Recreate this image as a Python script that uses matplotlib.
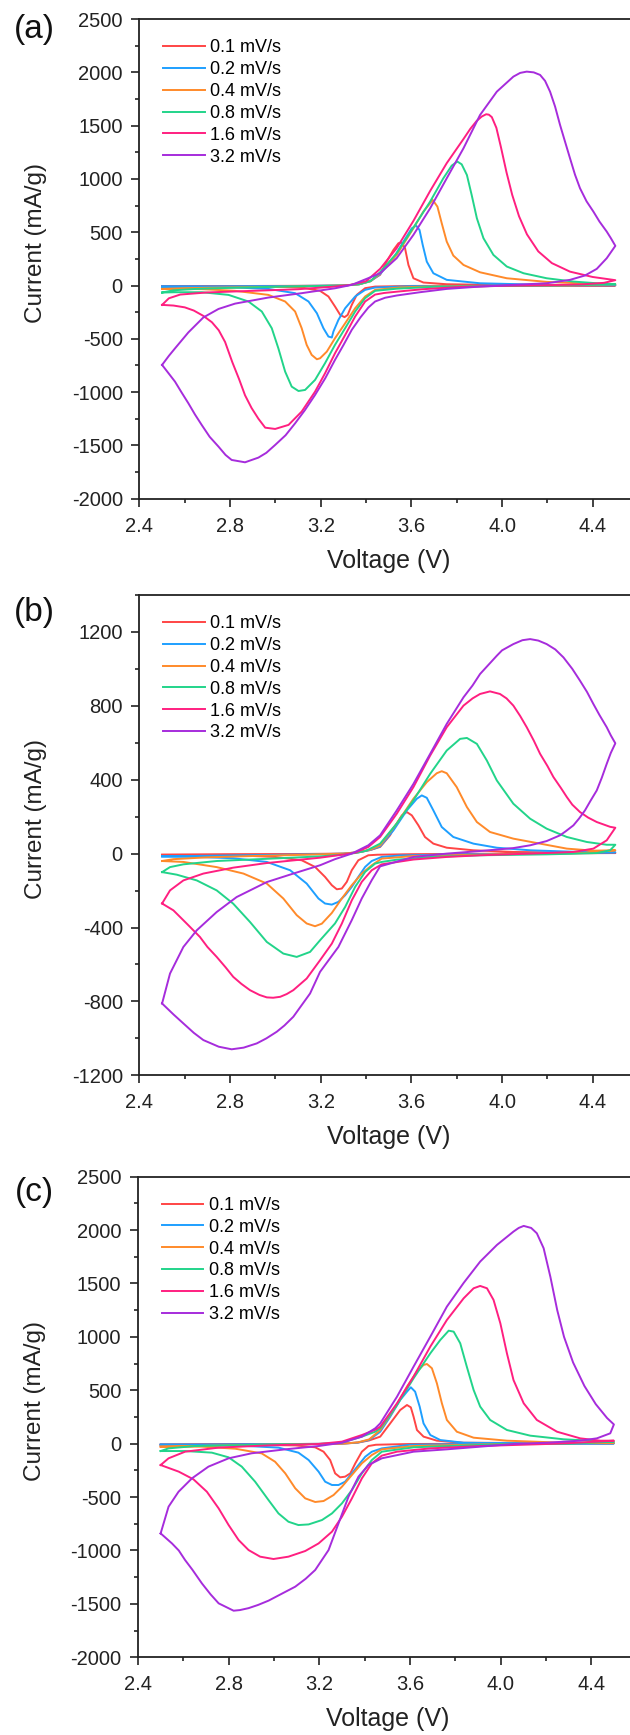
import matplotlib
matplotlib.use('Agg')
import matplotlib.pyplot as plt
from matplotlib.ticker import MultipleLocator, FormatStrFormatter

plt.rcParams['font.family'] = ['Liberation Sans', 'DejaVu Sans']
plt.rcParams['axes.unicode_minus'] = False

rates = ['0.1 mV/s', '0.2 mV/s', '0.4 mV/s', '0.8 mV/s', '1.6 mV/s', '3.2 mV/s']
colors = ['#FF4545', '#1E9FFF', '#FF8A2A', '#22D48A', '#FF1F80', '#A62CDC']

# ---------- panel (a) : voltage (V), current (mA/g), anodic then cathodic ----------
a_v_01 = [2.5, 2.8, 3.1, 3.3, 3.37, 3.42, 3.462, 3.491, 3.521, 3.543, 3.558, 3.572, 3.587, 3.609, 3.653, 3.756, 4.05, 4.5,
          4.0, 3.6, 3.44, 3.396, 3.359, 3.337, 3.319, 3.305, 3.286, 3.263, 3.234, 3.197, 3.116, 2.969, 2.5]
a_i_01 = [-8, -5, -3, 0, 12, 45, 100, 225, 334, 397, 403, 350, 193, 68, 28, 12, 3, 0,
          -2, -4, -10, -25, -88, -182, -276, -297, -276, -197, -103, -50, -19, -10, -7]

a_v_02 = [2.5, 2.8, 3.1, 3.3, 3.37, 3.42, 3.462, 3.521, 3.565, 3.602, 3.621, 3.636, 3.65, 3.668, 3.697, 3.756, 3.903, 4.197, 4.5,
          4.0, 3.6, 3.44, 3.396, 3.352, 3.308, 3.278, 3.256, 3.249, 3.234, 3.212, 3.183, 3.146, 3.087, 2.969, 2.822, 2.675, 2.5]
a_i_02 = [-10, -7, -4, 0, 12, 40, 106, 256, 412, 537, 562, 521, 381, 224, 115, 53, 21, 6, 3,
          -2, -6, -19, -41, -103, -213, -323, -432, -488, -479, -401, -260, -150, -72, -32, -19, -13, -10]

a_v_04 = [2.5, 2.6, 2.8, 3.0, 3.2, 3.3, 3.37, 3.42, 3.462, 3.535, 3.609, 3.653, 3.683, 3.694, 3.715, 3.734, 3.756, 3.785,
          3.83, 3.903, 4.021, 4.197, 4.374, 4.5,
          4.3, 4.0, 3.7, 3.55, 3.44, 3.396, 3.352, 3.308, 3.263, 3.227, 3.197, 3.183, 3.16, 3.138, 3.116, 3.087, 3.043,
          2.969, 2.822, 2.675, 2.5]
a_i_04 = [-32, -25, -18, -12, -5, 0, 12, 40, 115, 287, 537, 694, 772, 803, 740, 584, 412, 281,
          193, 124, 68, 34, 18, 12,
          2, -3, -8, -18, -41, -103, -213, -354, -495, -620, -683, -692, -651, -557, -401, -244, -150,
          -88, -50, -34, -32]

a_v_08 = [2.5, 2.55, 2.65, 2.8, 3.0, 3.2, 3.3, 3.37, 3.42, 3.462, 3.535, 3.609, 3.683, 3.741, 3.778, 3.803, 3.822, 3.845,
          3.866, 3.889, 3.918, 3.962, 4.021, 4.095, 4.197, 4.315, 4.418, 4.5,
          4.3, 4.0, 3.7, 3.535, 3.44, 3.396, 3.352, 3.308, 3.263, 3.219, 3.175, 3.131, 3.102, 3.072, 3.043, 3.013,
          2.984, 2.94, 2.881, 2.793, 2.675, 2.557, 2.5]
a_i_08 = [-66, -45, -32, -22, -12, -4, 0, 12, 42, 125, 303, 544, 788, 1006, 1125, 1163, 1137, 1037,
          850, 631, 444, 287, 178, 115, 68, 37, 21, 12,
          3, -4, -12, -30, -50, -119, -244, -400, -557, -729, -886, -980, -990, -949, -808, -589,
          -401, -244, -150, -88, -63, -63, -66]

a_v_16 = [2.5, 2.53, 2.58, 2.7, 2.9, 3.1, 3.25, 3.33, 3.4, 3.462, 3.535, 3.609, 3.683, 3.756, 3.83, 3.86, 3.888, 3.91,
          3.93, 3.942, 3.955, 3.975, 3.995, 4.02, 4.045, 4.075, 4.11, 4.16, 4.22, 4.3, 4.4, 4.5,
          4.45, 4.35, 4.2, 4.0, 3.8, 3.65, 3.55, 3.48, 3.44, 3.396, 3.352, 3.308, 3.263, 3.219, 3.175, 3.116, 3.058,
          2.999, 2.955, 2.925, 2.895, 2.866, 2.84, 2.81, 2.778, 2.75, 2.72, 2.682, 2.64, 2.6, 2.55, 2.5]
a_i_16 = [-182, -120, -85, -65, -50, -35, -12, 5, 40, 156, 350, 606, 888, 1148, 1375, 1470, 1544, 1585,
          1607, 1603, 1580, 1480, 1300, 1060, 850, 650, 480, 320, 210, 130, 80, 50,
          25, 10, 3, -3, -15, -35, -55, -70, -85, -150, -291, -464, -636, -824, -996, -1183, -1308,
          -1346, -1334, -1250, -1150, -1030, -880, -720, -530, -420, -345, -285, -235, -205, -188, -182]

a_v_32 = [2.5, 2.53, 2.557, 2.616, 2.682, 2.749, 2.822, 2.969, 3.116, 3.263, 3.337, 3.41, 3.462, 3.535, 3.609, 3.683,
          3.756, 3.83, 3.903, 3.977, 4.05, 4.08, 4.109, 4.14, 4.168, 4.19, 4.212, 4.234, 4.256, 4.278, 4.3, 4.322,
          4.344, 4.373, 4.403, 4.43, 4.462, 4.48, 4.5,
          4.462, 4.418, 4.366, 4.3, 4.197, 4.05, 3.903, 3.756, 3.638, 3.535, 3.484, 3.44, 3.41, 3.375, 3.337, 3.3,
          3.263, 3.22, 3.175, 3.13, 3.087, 3.045, 2.999, 2.96, 2.925, 2.866, 2.807, 2.78, 2.749, 2.71, 2.675, 2.645,
          2.616, 2.585, 2.557, 2.5]
a_i_32 = [-745, -660, -590, -440, -300, -220, -170, -113, -72, -26, 6, 69, 115, 256, 475, 725,
          1006, 1288, 1600, 1819, 1960, 1995, 2007, 2000, 1976, 1920, 1819, 1680, 1507, 1350, 1194, 1040,
          913, 790, 694, 600, 506, 445, 372,
          256, 156, 94, 53, 21, 6, -10, -32, -63, -94, -115, -150, -207, -300, -416, -560,
          -698, -870, -1027, -1170, -1293, -1405, -1496, -1570, -1615, -1659, -1637, -1590, -1512, -1420, -1309, -1210,
          -1105, -1000, -902, -745]

# ---------- panel (b) ----------
b_v_01 = [2.5, 2.8, 3.1, 3.3, 3.37, 3.42, 3.462, 3.506, 3.521, 3.558, 3.58, 3.602, 3.631, 3.66, 3.697, 3.756, 3.874, 4.05, 4.5,
          4.0, 3.6, 3.45, 3.41, 3.366, 3.337, 3.315, 3.293, 3.271, 3.249, 3.219, 3.175, 3.116, 2.999, 2.822, 2.5]
b_i_01 = [-5, -3, -2, 0, 8, 20, 36, 99, 135, 207, 225, 207, 153, 90, 54, 32, 18, 9, 3,
          0, -3, -6, -9, -36, -90, -153, -189, -193, -171, -126, -72, -36, -18, -9, -9]

b_v_02 = [2.5, 2.8, 3.1, 3.3, 3.37, 3.42, 3.462, 3.521, 3.58, 3.624, 3.646, 3.668, 3.697, 3.734, 3.785, 3.874, 3.977,
          4.124, 4.344, 4.5,
          4.2, 3.8, 3.55, 3.469, 3.425, 3.396, 3.366, 3.337, 3.308, 3.278, 3.249, 3.219, 3.19, 3.138, 3.065, 2.962,
          2.814, 2.65, 2.5]
b_i_02 = [-15, -10, -5, 0, 8, 20, 39, 126, 234, 297, 315, 302, 234, 144, 90, 54, 32,
          18, 9, 7,
          0, -4, -10, -18, -40, -72, -126, -180, -225, -261, -276, -270, -243, -162, -90, -45,
          -25, -18, -15]

b_v_04 = [2.5, 2.55, 2.7, 2.9, 3.1, 3.3, 3.37, 3.42, 3.462, 3.535, 3.609, 3.668, 3.712, 3.734, 3.756, 3.8, 3.845,
          3.889, 3.947, 4.05, 4.168, 4.286, 4.403, 4.5,
          4.35, 4.0, 3.609, 3.469, 3.425, 3.381, 3.337, 3.293, 3.249, 3.205, 3.175, 3.138, 3.094, 3.035, 2.962,
          2.859, 2.741, 2.594, 2.5]
b_i_04 = [-40, -30, -20, -13, -7, 0, 8, 22, 45, 162, 297, 387, 435, 446, 435, 360, 252,
          171, 117, 81, 54, 27, 16, 18,
          3, -3, -13, -27, -63, -108, -171, -243, -321, -379, -393, -378, -333, -243, -162,
          -108, -73, -45, -40]

b_v_08 = [2.5, 2.535, 2.594, 2.741, 2.962, 3.197, 3.3, 3.35, 3.4, 3.462, 3.535, 3.609, 3.683, 3.756, 3.815, 3.845,
          3.889, 3.933, 3.977, 4.05, 4.124, 4.197, 4.286, 4.374, 4.462, 4.5,
          4.477, 4.418, 4.197, 3.903, 3.683, 3.535, 3.469, 3.44, 3.396, 3.352, 3.308, 3.263, 3.197, 3.153, 3.094,
          3.035, 2.962, 2.888, 2.814, 2.741, 2.653, 2.565, 2.5]
b_i_08 = [-100, -73, -58, -40, -28, -15, -5, 3, 15, 54, 162, 288, 432, 558, 621, 626,
          594, 504, 396, 270, 189, 135, 90, 63, 48, 48,
          18, 3, -4, -9, -18, -33, -45, -54, -99, -180, -288, -378, -469, -532, -559,
          -541, -478, -370, -271, -199, -145, -114, -100]

b_v_16 = [2.5, 2.535, 2.594, 2.682, 2.814, 2.962, 3.109, 3.197, 3.3, 3.352, 3.41, 3.462, 3.535, 3.609, 3.683, 3.756,
          3.83, 3.87, 3.903, 3.947, 3.991, 4.02, 4.05, 4.08, 4.109, 4.14, 4.168, 4.2, 4.227, 4.26, 4.286, 4.31, 4.344,
          4.38, 4.418, 4.477, 4.5,
          4.462, 4.403, 4.315, 4.124, 3.903, 3.756, 3.609, 3.469, 3.425, 3.381, 3.337, 3.293, 3.249, 3.197, 3.138,
          3.079, 3.05, 3.021, 2.99, 2.962, 2.93, 2.888, 2.85, 2.814, 2.78, 2.741, 2.7, 2.667, 2.609, 2.55, 2.5]
b_i_16 = [-270, -199, -145, -108, -76, -51, -33, -22, -5, 5, 36, 90, 215, 360, 531, 684,
          801, 840, 864, 878, 864, 840, 801, 745, 684, 612, 540, 475, 414, 355, 306, 265, 225,
          195, 171, 145, 140,
          72, 27, 9, 0, -9, -18, -32, -58, -90, -153, -253, -379, -487, -577, -676,
          -739, -760, -775, -780, -778, -765, -739, -705, -667, -615, -559, -505, -451, -379, -307, -270]

b_v_32 = [2.5, 2.535, 2.594, 2.653, 2.741, 2.829, 2.962, 3.079, 3.197, 3.263, 3.337, 3.41, 3.462, 3.535, 3.609, 3.683,
          3.756, 3.83, 3.87, 3.903, 3.977, 4.0, 4.05, 4.09, 4.124, 4.16, 4.197, 4.235, 4.271, 4.31, 4.344, 4.375,
          4.403, 4.43, 4.462, 4.48, 4.5,
          4.48, 4.462, 4.44, 4.418, 4.39, 4.366, 4.34, 4.315, 4.28, 4.256, 4.197, 4.124, 4.05, 3.903, 3.756, 3.609,
          3.462, 3.425, 3.381, 3.337, 3.278, 3.197, 3.153, 3.079, 3.04, 3.006, 2.96, 2.918, 2.86, 2.807, 2.75, 2.682,
          2.64, 2.594, 2.55, 2.5]
b_i_32 = [-811, -649, -505, -415, -316, -235, -154, -108, -63, -30, 0, 45, 99, 233, 377, 540,
          702, 846, 910, 972, 1071, 1100, 1134, 1155, 1161, 1153, 1134, 1105, 1062, 1000, 936, 875,
          810, 750, 684, 640, 597,
          545, 486, 410, 342, 285, 234, 190, 153, 120, 99, 68, 45, 30, 14, 0, -18,
          -69, -144, -243, -360, -505, -640, -757, -883, -930, -964, -1000, -1027, -1050, -1059, -1045, -1009,
          -970, -919, -870, -811]

# ---------- panel (c) ----------
c_v_01 = [2.5, 2.8, 3.1, 3.3, 3.37, 3.42, 3.469, 3.513, 3.557, 3.587, 3.604, 3.616, 3.631, 3.66, 3.719, 3.837, 4.5,
          4.0, 3.6, 3.45, 3.417, 3.388, 3.359, 3.337, 3.314, 3.292, 3.27, 3.248, 3.219, 3.182, 3.094, 2.829, 2.5]
c_i_01 = [-9, -6, -3, 0, 10, 30, 66, 190, 315, 362, 340, 253, 128, 66, 28, 9, 3,
          0, -3, -10, -22, -75, -184, -278, -309, -315, -278, -153, -75, -34, -16, -9, -9]

c_v_02 = [2.5, 2.8, 3.1, 3.3, 3.37, 3.42, 3.469, 3.513, 3.557, 3.587, 3.604, 3.623, 3.643, 3.66, 3.69, 3.734, 3.837,
          4.057, 4.5,
          4.0, 3.6, 3.476, 3.432, 3.403, 3.373, 3.344, 3.314, 3.285, 3.256, 3.226, 3.197, 3.153, 3.108, 3.02, 2.829, 2.5]
c_i_02 = [-9, -6, -3, 0, 10, 35, 112, 253, 409, 487, 528, 487, 347, 190, 81, 34, 9,
          3, 3,
          0, -10, -44, -75, -122, -200, -278, -356, -387, -387, -356, -262, -153, -84, -37, -16, -9]

c_v_04 = [2.5, 2.7, 2.9, 3.1, 3.3, 3.37, 3.42, 3.469, 3.528, 3.587, 3.631, 3.66, 3.675, 3.697, 3.719, 3.741, 3.763,
          3.807, 3.881, 4.028, 4.278, 4.5,
          4.0, 3.616, 3.476, 3.432, 3.388, 3.344, 3.3, 3.263, 3.219, 3.182, 3.138, 3.094, 3.05, 3.005, 2.946, 2.829,
          2.682, 2.5]
c_i_04 = [-28, -20, -12, -5, 0, 12, 40, 128, 315, 534, 675, 737, 746, 706, 565, 378, 222,
          112, 56, 28, 9, 9,
          -3, -22, -53, -106, -184, -293, -403, -481, -537, -546, -512, -418, -278, -169, -91, -47,
          -28, -28]

c_v_08 = [2.5, 2.535, 2.65, 2.95, 3.2, 3.3, 3.388, 3.447, 3.469, 3.543, 3.616, 3.69, 3.734, 3.771, 3.793, 3.822,
          3.851, 3.881, 3.91, 3.954, 4.028, 4.131, 4.278, 4.425, 4.5,
          4.3, 4.0, 3.616, 3.476, 3.432, 3.388, 3.344, 3.3, 3.256, 3.212, 3.153, 3.108, 3.064, 3.02, 2.976, 2.917,
          2.858, 2.8, 2.726, 2.608, 2.5]
c_i_08 = [-69, -44, -22, -9, -3, 10, 66, 112, 144, 362, 612, 846, 971, 1058, 1049, 940,
          721, 503, 347, 222, 128, 75, 41, 25, 19,
          0, -5, -34, -75, -153, -278, -434, -559, -653, -715, -756, -762, -731, -653, -528, -356,
          -215, -128, -84, -69, -69]

c_v_16 = [2.5, 2.535, 2.608, 2.756, 2.976, 3.197, 3.3, 3.388, 3.447, 3.469, 3.543, 3.616, 3.69, 3.763, 3.837, 3.881,
          3.91, 3.94, 3.969, 3.999, 4.028, 4.057, 4.102, 4.16, 4.249, 4.351, 4.44, 4.5,
          4.3, 4.204, 3.91, 3.69, 3.543, 3.476, 3.432, 3.388, 3.344, 3.3, 3.256, 3.197, 3.138, 3.064, 2.998, 2.939,
          2.888, 2.844, 2.8, 2.756, 2.704, 2.645, 2.58, 2.5]
c_i_16 = [-200, -137, -75, -37, -16, -3, 19, 81, 130, 159, 378, 628, 909, 1158, 1361, 1455,
          1477, 1455, 1346, 1127, 846, 596, 378, 222, 112, 50, 28, 28,
          5, -3, -22, -44, -75, -112, -184, -325, -512, -684, -824, -934, -1005, -1058, -1080, -1058,
          -996, -902, -762, -606, -450, -334, -262, -200]

c_v_32 = [2.5, 2.535, 2.579, 2.638, 2.711, 2.8, 2.902, 3.05, 3.197, 3.3, 3.388, 3.447, 3.469, 3.543, 3.616, 3.69,
          3.763, 3.837, 3.91, 3.984, 4.057, 4.08, 4.102, 4.135, 4.16, 4.19, 4.22, 4.25, 4.28, 4.32, 4.37, 4.42, 4.47, 4.5,
          4.484, 4.425, 4.351, 4.204, 4.057, 3.91, 3.763, 3.616, 3.476, 3.417, 3.373, 3.329, 3.285, 3.241, 3.182,
          3.14, 3.094, 3.03, 2.976, 2.93, 2.888, 2.85, 2.822, 2.756, 2.72, 2.682, 2.64, 2.608, 2.58, 2.55, 2.5]
c_i_32 = [-840, -590, -450, -325, -215, -137, -90, -53, -22, 9, 66, 144, 190, 440, 721, 1002,
          1283, 1505, 1705, 1861, 1986, 2020, 2039, 2020, 1970, 1830, 1560, 1250, 1000, 760, 540, 370, 240, 180,
          97, 50, 28, 9, -3, -28, -53, -75, -137, -200, -309, -496, -746, -996, -1183,
          -1265, -1339, -1410, -1470, -1510, -1540, -1558, -1564, -1495, -1410, -1308, -1180, -1090, -1000, -934, -840]

panels = [
    ('(a)', [(a_v_01, a_i_01), (a_v_02, a_i_02), (a_v_04, a_i_04), (a_v_08, a_i_08), (a_v_16, a_i_16), (a_v_32, a_i_32)],
     (-2000, 2500), 500, 250),
    ('(b)', [(b_v_01, b_i_01), (b_v_02, b_i_02), (b_v_04, b_i_04), (b_v_08, b_i_08), (b_v_16, b_i_16), (b_v_32, b_i_32)],
     (-1200, 1400), 400, 200),
    ('(c)', [(c_v_01, c_i_01), (c_v_02, c_i_02), (c_v_04, c_i_04), (c_v_08, c_i_08), (c_v_16, c_i_16), (c_v_32, c_i_32)],
     (-2000, 2500), 500, 250),
]

# axes boxes in figure fractions (the right spine falls just outside the picture)
boxes = [(0.2213, 0.7126, 0.7914, 0.2764),
         (0.2213, 0.3802, 0.7914, 0.2769),
         (0.2190, 0.0448, 0.7914, 0.2770)]
tag_y = [1 - 29.6 / 1735, 1 - 613 / 1735, 1 - 1192 / 1735]

fig = plt.figure(figsize=(6.3, 17.35), dpi=100)

for (tag, curves, ylim, major, minor), box, ty in zip(panels, boxes, tag_y):
    ax = fig.add_axes(box)
    for (v, i), c, lab in zip(curves, colors, rates):
        ax.plot(v, i, color=c, lw=1.4, label=lab, solid_joinstyle='round')
    ax.set_xlim(2.4, 4.6)
    ax.set_ylim(*ylim)
    ax.xaxis.set_major_locator(MultipleLocator(0.4))
    ax.xaxis.set_minor_locator(MultipleLocator(0.2))
    ax.yaxis.set_major_locator(MultipleLocator(major))
    ax.yaxis.set_minor_locator(MultipleLocator(minor))
    ax.xaxis.set_major_formatter(FormatStrFormatter('%.1f'))
    ax.tick_params(which='both', direction='out', top=False, right=False, width=1.2, colors='#222222',
                   labelsize=14.5)
    ax.tick_params(which='major', length=6)
    ax.tick_params(which='minor', length=3)
    ax.tick_params(axis='x', which='major', pad=7)
    ax.tick_params(axis='y', which='major', pad=6)
    for s in ax.spines.values():
        s.set_linewidth(1.3)
        s.set_color('#222222')

    ax.set_xlabel('Voltage (V)', fontsize=18, color='#222222')
    ax.xaxis.label.set_va('center')
    ax.xaxis.set_label_coords(0.5, -0.129)
    ax.set_ylabel('Current (mA/g)', fontsize=17.5, color='#222222')
    ax.yaxis.label.set_va('center')
    ax.yaxis.set_label_coords(-0.207, 0.534)

    ax.legend(loc='upper left', bbox_to_anchor=(0.048, 0.958), frameon=False, fontsize=13,
              handlelength=2.3, handletextpad=0.3, labelspacing=0.27, borderpad=0, borderaxespad=0)

    fig.text(34 / 630, ty, tag, fontsize=24, ha='center', va='center', color='#111111')

fig.savefig('out.png', dpi=100)
